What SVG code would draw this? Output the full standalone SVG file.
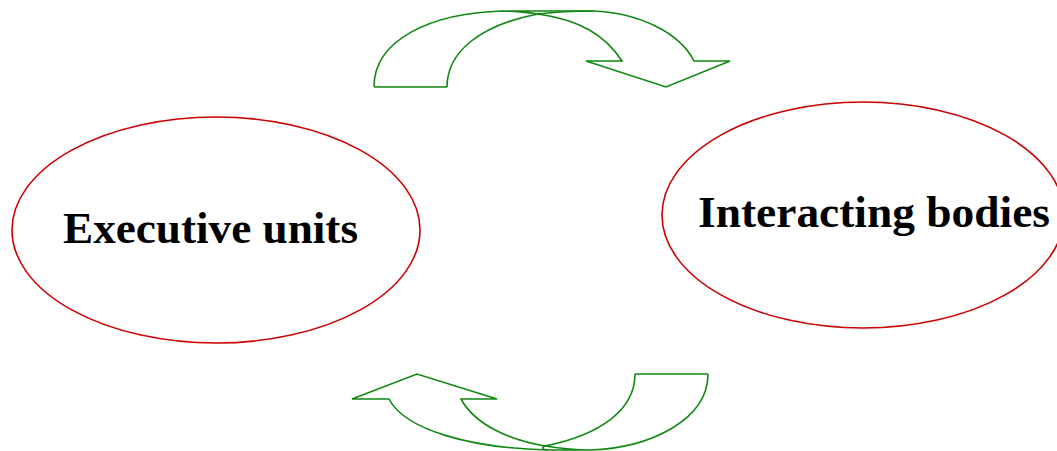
<svg xmlns="http://www.w3.org/2000/svg" width="1057" height="451" viewBox="0 0 1057 451">
<style>
.node ellipse{fill:#fff;stroke:#cc0000;stroke-width:1.6}
.node text{font-family:"Liberation Serif","Times New Roman",serif;font-weight:bold;font-size:44px;fill:#000}
.arrow path{fill:none;stroke:#118811;stroke-width:1.6;stroke-linejoin:miter}
</style>
<rect width="1057" height="451" fill="#fff"/>
<g id="connectors" class="arrow">
  <g id="arrow-top">
    <path d="M374,87 C374,40 430,13 503,11 L593,11 C640,13 680,33 694,61 L730,61 L666,87 L586,61 L622,61 C605,35 580,20 538,14 C525,12 512,11 503,11"/>
    <path d="M447,87 L374,87"/>
    <path d="M447,87 C447,52 480,25 538,14 C555,12 575,11 593,11"/>
  </g>
  <g id="arrow-bottom">
    <path d="M708,374 C708,420 650,448 590,450 L548,450 C470,448 405,430 389,399 L352,399 L417,374 L497,399 L461,399 C475,425 510,440 545,446 C558,448 572,450 590,450"/>
    <path d="M635,374 L708,374"/>
    <path d="M635,374 C635,410 600,435 545,446 C540,448 544,450 548,450"/>
  </g>
</g>
<g id="node-executive" class="node">
  <ellipse cx="216" cy="230" rx="204" ry="113"/>
  <text x="63" y="243" textLength="295" lengthAdjust="spacingAndGlyphs">Executive units</text>
</g>
<g id="node-interacting" class="node">
  <ellipse cx="863" cy="215" rx="201" ry="113"/>
  <text x="698" y="227" textLength="352" lengthAdjust="spacingAndGlyphs">Interacting bodies</text>
</g>
</svg>
